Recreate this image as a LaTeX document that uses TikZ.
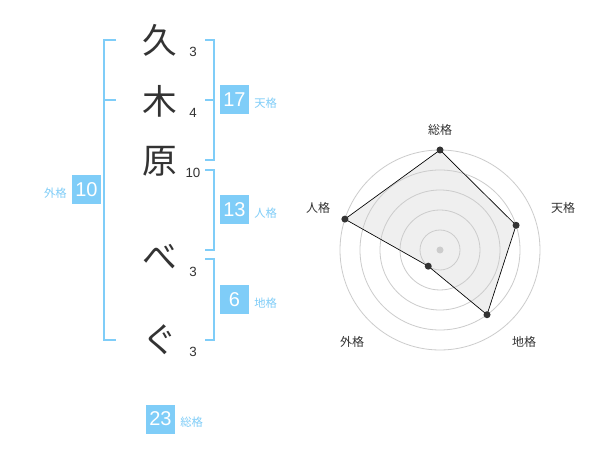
\documentclass[tikz,border=0pt]{standalone}
\usepackage{fontspec}
\setmainfont{Liberation Sans}
\newfontfamily\jp{Noto Sans CJK JP}
\definecolor{kblue}{HTML}{7FCDF8}
\definecolor{ink}{HTML}{333333}
\definecolor{ring}{HTML}{CCCCCC}
\definecolor{area}{HTML}{EFEFEF}
\tikzset{
  kanji/.style={font=\jp\fontsize{26}{26}\selectfont, text=ink, inner sep=0pt},
  strokes/.style={font=\fontsize{10}{10}\selectfont, text=ink, inner sep=0pt},
  numbox/.style={fill=kblue, text=white, minimum size=21.75pt, inner sep=0pt, font=\fontsize{15}{15}\selectfont},
  klabel/.style={text=kblue, font=\jp\fontsize{8.5}{8.5}\selectfont, inner sep=0pt},
  bracket/.style={draw=kblue, line width=1.5pt},
  rlabel/.style={text=ink, font=\jp\fontsize{9}{9}\selectfont, inner sep=0pt},
  dot/.style={circle, fill=ink, minimum size=5.25pt, inner sep=0pt},
}
\begin{document}
\begin{tikzpicture}[x=0.75pt,y=-0.75pt]
\fill[white] (0,0) rectangle (600,470);
\useasboundingbox (0,0) rectangle (600,470);
% characters
\node[kanji] (c1) at (160,40) {久};
\node[kanji] (c2) at (160,101) {木};
\node[kanji] (c3) at (160,161) {原};
\node[kanji] (c4) at (160,257) {べ};
\node[kanji] (c5) at (160,340) {ぐ};
% stroke counts
\node[strokes] (s1) at (193,52) {3};
\node[strokes] (s2) at (193,113) {4};
\node[strokes] (s3) at (193,173) {10};
\node[strokes] (s4) at (193,272) {3};
\node[strokes] (s5) at (193,352) {3};
% left bracket
\draw[bracket] (116,40) -- (104,40) -- (104,340) -- (116,340);
\draw[bracket] (104,100) -- (116,100);
% right brackets
\draw[bracket] (205,40) -- (214,40) -- (214,160) -- (205,160);
\draw[bracket] (205,100) -- (214,100);
\draw[bracket] (205,170) -- (214,170) -- (214,250) -- (205,250);
\draw[bracket] (205,259) -- (214,259) -- (214,340) -- (205,340);
% boxes and labels
\node[numbox] (ten) at (234.5,100) {17};
\node[klabel, anchor=west] (tenl) at (254,103) {天格};
\node[numbox] (jin) at (234.5,210) {13};
\node[klabel, anchor=west] (jinl) at (254,213) {人格};
\node[numbox] (chi) at (234.5,300) {6};
\node[klabel, anchor=west] (chil) at (254,303) {地格};
\node[numbox] (gai) at (86.5,190) {10};
\node[klabel, anchor=east] (gail) at (67,193) {外格};
\node[numbox] (sou) at (160.5,419) {23};
\node[klabel, anchor=west] (soul) at (180,422) {総格};
% radar chart
\begin{scope}[shift={(440,250)}, yscale=-1]
  \coordinate (rc) at (0,0);
  \coordinate (pA) at (90:100);
  \coordinate (pB) at (18:80);
  \coordinate (pC) at (-54:80);
  \coordinate (pD) at (-126:20);
  \coordinate (pE) at (162:100);
  \fill[area] (pA) -- (pB) -- (pC) -- (pD) -- (pE) -- cycle;
  \foreach \r in {20,40,60,80,100} \draw[ring, line width=0.6pt] (rc) circle (\r);
  \draw[black, line width=0.5pt] (pA) -- (pB) -- (pC) -- (pD) -- (pE) -- cycle;
  \fill[ring] (rc) circle (3.5);
  \node[dot] (dA) at (pA) {};
  \node[dot] (dB) at (pB) {};
  \node[dot] (dC) at (pC) {};
  \node[dot] (dD) at (pD) {};
  \node[dot] (dE) at (pE) {};
\end{scope}
\node[rlabel] (lA) at (440,130) {総格};
\node[rlabel] (lB) at (563,208) {天格};
\node[rlabel] (lC) at (524,342) {地格};
\node[rlabel] (lD) at (352,342) {外格};
\node[rlabel] (lE) at (318,208) {人格};
\end{tikzpicture}
\end{document}
